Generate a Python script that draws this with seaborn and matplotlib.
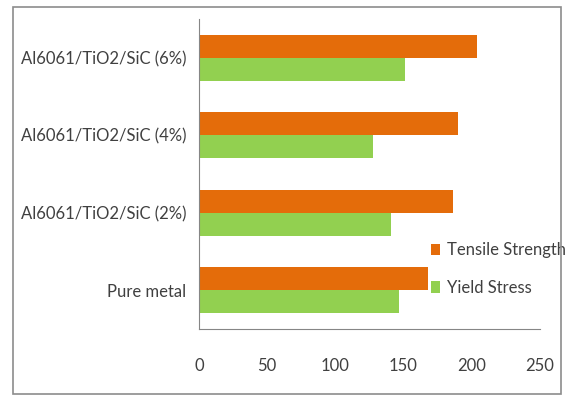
import pandas as pd
import matplotlib.pyplot as plt
import seaborn as sns
from matplotlib.patches import Rectangle

# datos
materiales = ["Al6061/TiO2/SiC (6%)", "Al6061/TiO2/SiC (4%)",
              "Al6061/TiO2/SiC (2%)", "Pure metal"]
tensile = [204, 190, 186, 168]
yield_stress = [151, 128, 141, 147]
series = ["Tensile Strength", "Yield Stress"]
colores = ["#E46C0A", "#92D050"]

df = pd.DataFrame({
    "Material": materiales * 2,
    "Serie": [series[0]] * 4 + [series[1]] * 4,
    "Valor": tensile + yield_stress,
})

sns.set_style("white")
plt.rcParams["font.family"] = ["Lato", "DejaVu Sans"]

fig = plt.figure(figsize=(5.7, 3.96), dpi=100)
ax = fig.add_axes([0.349, 0.169, 0.598, 0.783])

sns.barplot(data=df, y="Material", x="Valor", hue="Serie", order=materiales,
            hue_order=series, palette=colores, width=0.59, orient="h",
            saturation=1, linewidth=0, ax=ax)

ax.set_xlim(0, 250)
ax.set_ylim(3.5, -0.5)
ax.set_xticks([0, 50, 100, 150, 200, 250])
ax.set_xlabel("")
ax.set_ylabel("")

gris = "#868686"
texto = "#404040"
for s in ["top", "right"]:
    ax.spines[s].set_visible(False)
for s in ["left", "bottom"]:
    ax.spines[s].set_color(gris)
    ax.spines[s].set_linewidth(0.8)

ax.tick_params(axis="x", direction="inout", length=6, color=gris, width=0.8,
               pad=18, labelsize=12, labelcolor=texto)
ax.tick_params(axis="y", which="major", length=0, pad=9, labelsize=12,
               labelcolor=texto)
ax.set_yticks([-0.5, 0.5, 1.5, 2.5, 3.5], minor=True)
ax.tick_params(axis="y", which="minor", direction="out", length=4, color=gris,
               width=0.8)

leg = ax.legend(loc="upper left", bbox_to_anchor=(0.745, 0.405),
                bbox_transform=fig.transFigure, frameon=False,
                fontsize=12, handlelength=0.55, handleheight=0.7,
                handletextpad=0.4, labelspacing=1.3, borderaxespad=0)
for t in leg.get_texts():
    t.set_color(texto)

# marco exterior estilo Excel
fig.patches.append(Rectangle((13 / 570, 2 / 396), 548 / 570, 387 / 396,
                             transform=fig.transFigure, fill=False,
                             edgecolor="#8c8c8c", linewidth=1.2))

fig.savefig("out.png", dpi=100)
